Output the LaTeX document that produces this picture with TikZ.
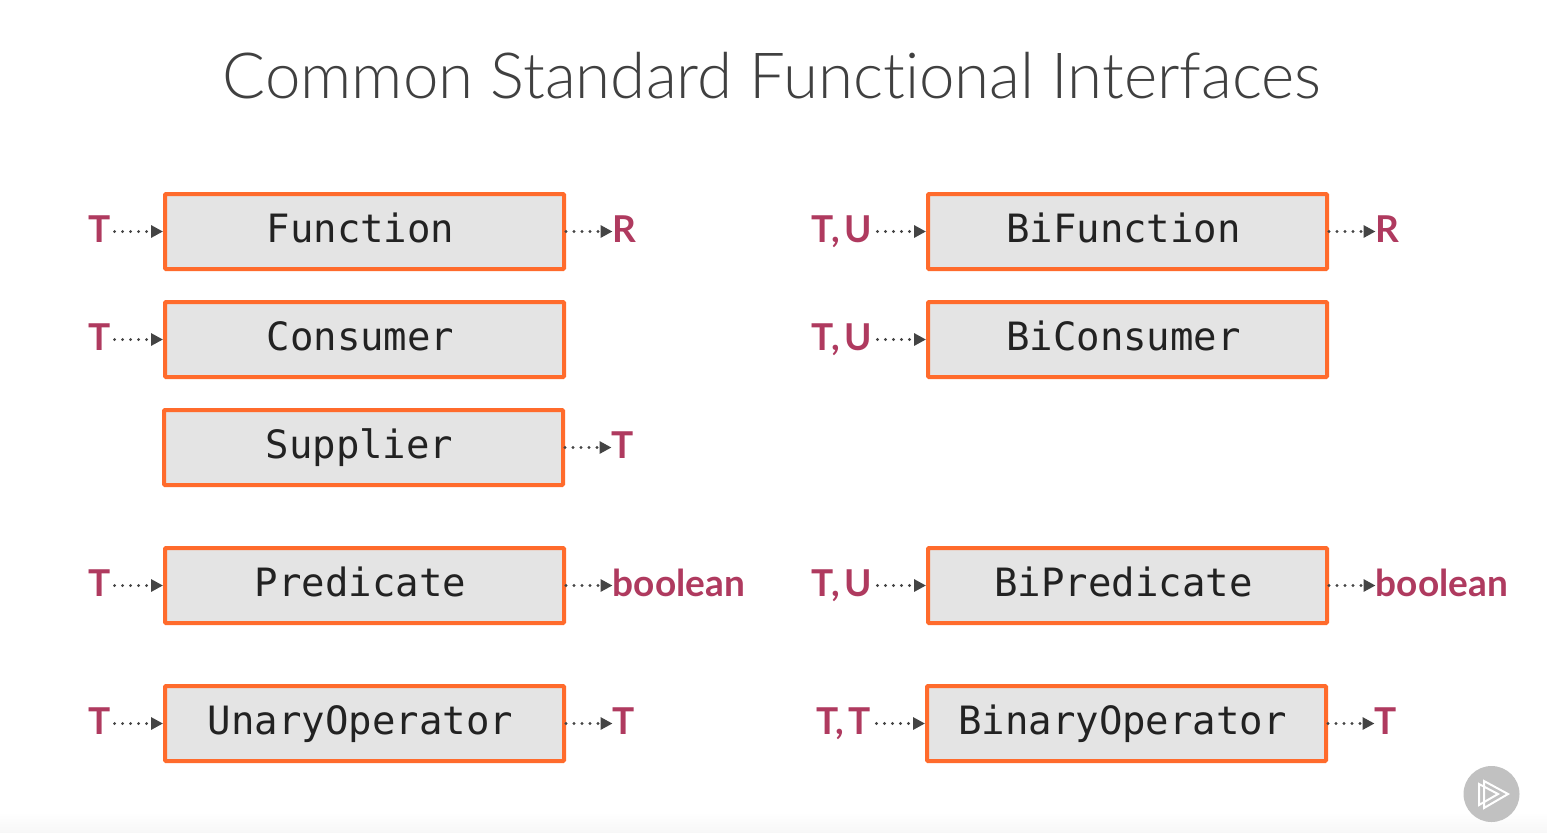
\documentclass[tikz,border=0pt]{standalone}
\usepackage{fontspec}
\usepackage{tikz}
\usetikzlibrary{arrows.meta,positioning}
\setmainfont{Lato}
\newfontfamily\titlefont[Ligatures=NoCommon]{Lato Light}
\newfontfamily\boxfont{DejaVu Sans Mono}
\definecolor{accent}{HTML}{FF6B2C}
\definecolor{boxbg}{HTML}{E4E4E4}
\definecolor{typecolor}{HTML}{AF3A5F}
\definecolor{darktext}{HTML}{222222}
\definecolor{titletext}{HTML}{404040}
\definecolor{flowcolor}{HTML}{444444}
\definecolor{playbg}{HTML}{C1C1C1}
\tikzset{
  fnbox/.style={draw=accent,line width=2pt,fill=boxbg,rounded corners=0.5pt,minimum width=199.5pt,minimum height=37.5pt,align=center,inner sep=0pt,text=darktext,font=\boxfont\fontsize{19.5}{22}\selectfont,text height=14pt,text depth=3pt,execute at begin node={\hspace*{-4pt}}},
  typelabel/.style={inner sep=0pt,text=typecolor,font=\fontsize{18.5}{22}\selectfont\bfseries,text height=13.5pt,text depth=0pt,yshift=1.5pt},
  flow/.style={-{Triangle[length=6pt,width=6pt]},flowcolor,line width=1.6pt,line cap=round,dash pattern=on 0pt off 4pt},
  titlenode/.style={text=titletext,font=\titlefont\fontsize{31.8}{38}\selectfont}
}
\begin{document}
\begin{tikzpicture}[x=0.5pt,y=-0.5pt,node distance=14.5pt and 180pt]
  \useasboundingbox (0,0) rectangle (1547,832);
  \fill[white] (0,0) rectangle (1547,832);
  \shade[top color=white,bottom color=black!3] (0,812) rectangle (1547,832);
  \node[titlenode] (title) at (772,76) {Common Standard Functional Interfaces};

  % Left column
  \node[fnbox] (function) at (364.5,231.5) {Function};
  \node[fnbox,below=of function] (consumer) {Consumer};
  \node[fnbox,below=of consumer,xshift=-0.5pt] (supplier) {Supplier};
  \node[fnbox,below=29.5pt of supplier,xshift=0.5pt] (predicate) {Predicate};
  \node[fnbox,below=29.5pt of predicate] (unary) {UnaryOperator};

  % Right column
  \node[fnbox,right=of function] (bifunction) {BiFunction};
  \node[fnbox,below=of bifunction] (biconsumer) {BiConsumer};
  \node[fnbox,right=of predicate] (bipredicate) {BiPredicate};
  \node[fnbox,right=of unary,xshift=-0.5pt] (binary) {BinaryOperator};

  % Inputs
  \node[typelabel,left=26.2pt of function] (functionin) {T};
  \node[typelabel,left=26.2pt of consumer] (consumerin) {T};
  \node[typelabel,left=26.2pt of predicate] (predicatein) {T};
  \node[typelabel,left=26.2pt of unary] (unaryin) {T};
  \node[typelabel,left=26.75pt of bifunction] (bifunctionin) {T,\hspace{0.12em}U};
  \node[typelabel,left=26.75pt of biconsumer] (biconsumerin) {T,\hspace{0.12em}U};
  \node[typelabel,left=26.75pt of bipredicate] (bipredicatein) {T,\hspace{0.12em}U};
  \node[typelabel,left=26.75pt of binary] (binaryin) {T,\hspace{0.12em}T};

  % Outputs
  \node[typelabel,right=23.25pt of function] (functionout) {R};
  \node[typelabel,right=23.25pt of supplier] (supplierout) {T};
  \node[typelabel,right=23.25pt of predicate] (predicateout) {boolean};
  \node[typelabel,right=23.25pt of unary] (unaryout) {T};
  \node[typelabel,right=23.25pt of bifunction] (bifunctionout) {R};
  \node[typelabel,right=23.25pt of bipredicate] (bipredicateout) {boolean};
  \node[typelabel,right=23.25pt of binary] (binaryout) {T};

  \draw[flow,shorten <=2pt] (functionin.east |- function.west) -- (function.west);
  \draw[flow,shorten <=2pt] (consumerin.east |- consumer.west) -- (consumer.west);
  \draw[flow,shorten <=2pt] (predicatein.east |- predicate.west) -- (predicate.west);
  \draw[flow,shorten <=2pt] (unaryin.east |- unary.west) -- (unary.west);
  \draw[flow,shorten <=2.5pt] (bifunctionin.east |- bifunction.west) -- (bifunction.west);
  \draw[flow,shorten <=2.5pt] (biconsumerin.east |- biconsumer.west) -- (biconsumer.west);
  \draw[flow,shorten <=2.5pt] (bipredicatein.east |- bipredicate.west) -- (bipredicate.west);
  \draw[flow,shorten <=2.5pt] (binaryin.east |- binary.west) -- (binary.west);

  \draw[flow] (function.east) -- (functionout.west |- function.east);
  \draw[flow] (supplier.east) -- (supplierout.west |- supplier.east);
  \draw[flow] (predicate.east) -- (predicateout.west |- predicate.east);
  \draw[flow] (unary.east) -- (unaryout.west |- unary.east);
  \draw[flow] (bifunction.east) -- (bifunctionout.west |- bifunction.east);
  \draw[flow] (bipredicate.east) -- (bipredicateout.west |- bipredicate.east);
  \draw[flow] (binary.east) -- (binaryout.west |- binary.east);

  % Play badge
  \node[circle,fill=playbg,minimum size=28pt,inner sep=0pt] (play) at (1491.5,794) {};
  \draw[white,line width=1pt,line join=miter] (1484,781) -- (1508,794) -- (1484,808) -- cycle;
  \draw[white,line width=1pt,line join=miter] (1479,784) -- (1498,794) -- (1479,805) -- cycle;
\end{tikzpicture}
\end{document}
